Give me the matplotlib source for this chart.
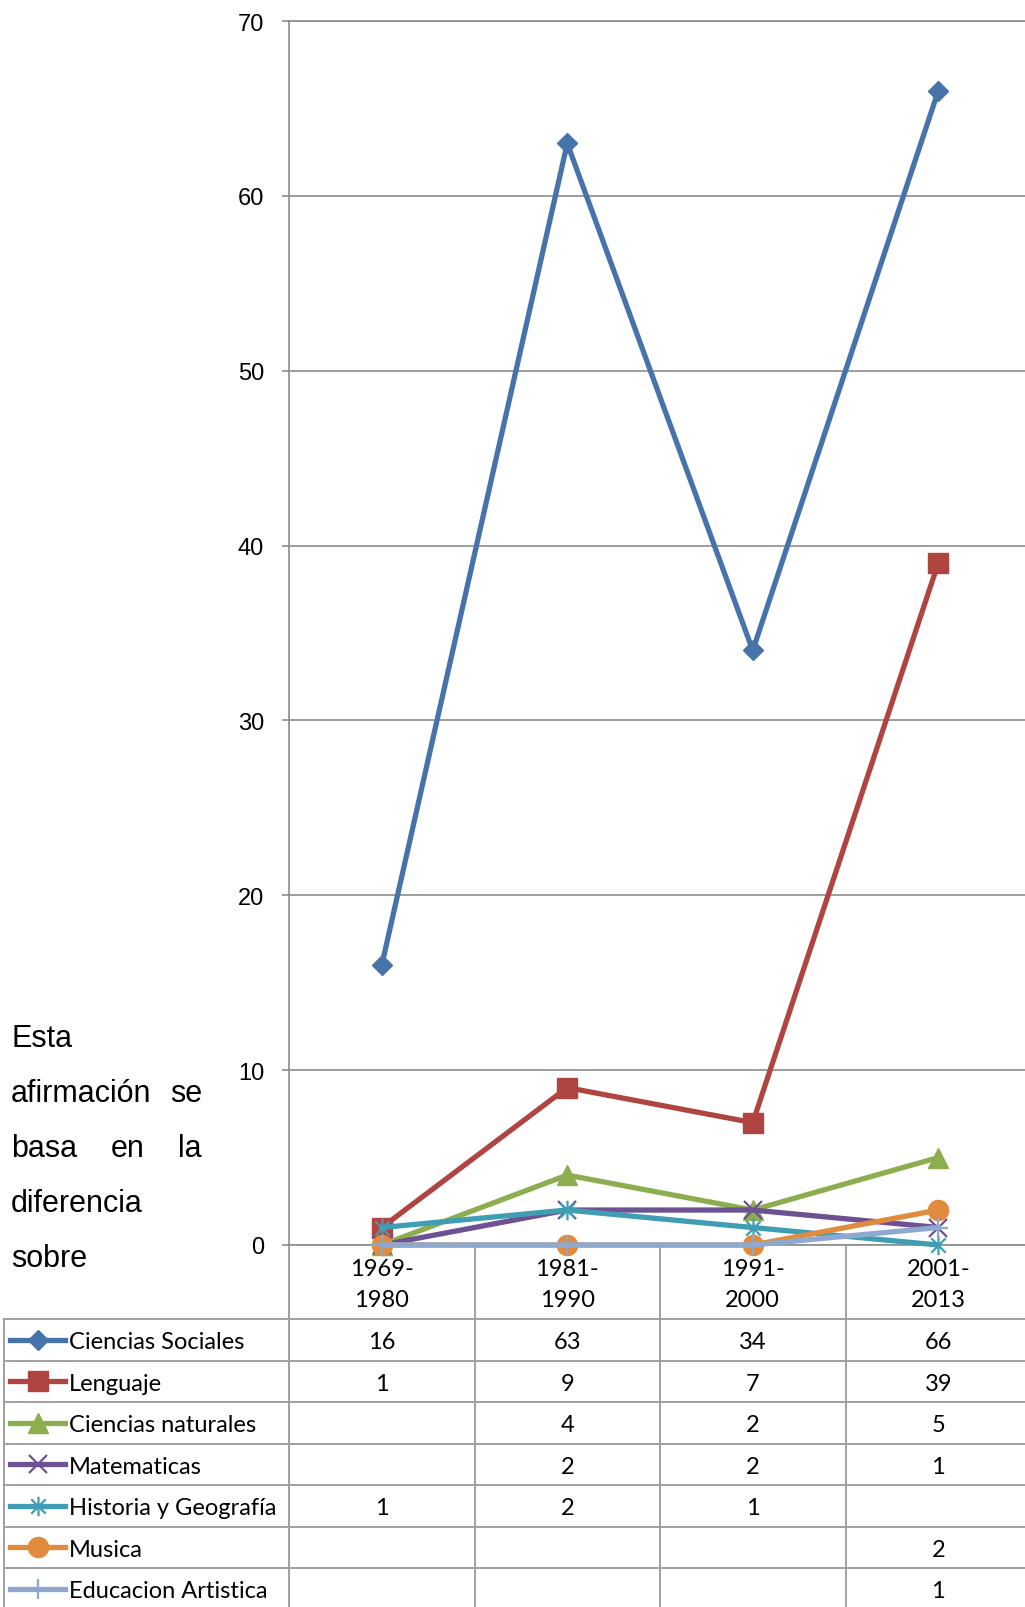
import matplotlib
matplotlib.use('Agg')
import matplotlib.pyplot as plt
from matplotlib.path import Path
from matplotlib.lines import Line2D
import matplotlib.transforms as mtransforms

# ---------------- data ----------------
categories = ['1969-\n1980', '1981-\n1990', '1991-\n2000', '2001-\n2013']
series_names = ['Ciencias Sociales', 'Lenguaje', 'Ciencias naturales', 'Matematicas',
                'Historia y Geografía', 'Musica', 'Educacion Artistica']
ciencias_sociales = [16, 63, 34, 66]
lenguaje = [1, 9, 7, 39]
ciencias_naturales = [None, 4, 2, 5]
matematicas = [None, 2, 2, 1]
historia_geografia = [1, 2, 1, None]
musica = [None, None, None, 2]
educacion_artistica = [None, None, None, 1]
y_ticks = [0, 10, 20, 30, 40, 50, 60, 70]
paragraph_lines = [['Esta'], ['afirmación', 'se'], ['basa', 'en', 'la'], ['diferencia'], ['sobre']]

series_values = [ciencias_sociales, lenguaje, ciencias_naturales, matematicas,
                 historia_geografia, musica, educacion_artistica]

# ---------------- styles ----------------
colors = ['#4674AA', '#AF4441', '#8DAE4E', '#6E5193', '#3F9DB4', '#E08B3D', '#8EA9D0']
asterisk = Path([(-1, -1), (1, 1), (-1, 1), (1, -1), (0, -1.35), (0, 1.35)],
                [Path.MOVETO, Path.LINETO, Path.MOVETO, Path.LINETO, Path.MOVETO, Path.LINETO])
markers = ['D', 's', '^', 'x', asterisk, 'o', '+']
msizes = [10.5, 14.5, 15, 13, 14, 14.5, 14]
mew = [1, 1, 1, 1.6, 1.6, 1, 1.6]

W, H = 1025, 1608
fig = plt.figure(figsize=(W / 100, H / 100), dpi=100)

ax_left, ax_right, ax_top, ax_bot = 289, 1031, 22, 1246
ax = fig.add_axes([ax_left / W, (H - ax_bot) / H, (ax_right - ax_left) / W, (ax_bot - ax_top) / H])
ax.set_zorder(2)
ax.patch.set_visible(False)

tab = fig.add_axes([0, 0, 1, 1])
tab.set_zorder(1)
tab.set_xlim(0, W)
tab.set_ylim(H, 0)
tab.axis('off')

grid_col = '#8C8C8C'
x = list(range(len(categories)))

for i, vals in enumerate(series_values):
    plotted = [v if v is not None else 0 for v in vals]
    ax.plot(x, plotted, color=colors[i], lw=3.8, marker=markers[i], ms=msizes[i],
            mfc=colors[i], mec=colors[i], mew=mew[i], clip_on=False, zorder=3 + i,
            solid_joinstyle='round')

ax.set_xlim(-0.5, 3.5)
ax.set_ylim(0, 70)
ax.set_yticks(y_ticks)
ax.set_yticklabels([str(t) for t in y_ticks], fontsize=17, family='Liberation Sans')
ax.tick_params(axis='y', direction='out', length=5, width=1.2, color=grid_col, pad=13)
ax.set_xticks([])
for s in ['right']:
    ax.spines[s].set_visible(False)
for s in ['left', 'top', 'bottom']:
    ax.spines[s].set_color(grid_col)
    ax.spines[s].set_linewidth(1.2)
ax.yaxis.grid(True, color=grid_col, lw=1.2)
ax.set_axisbelow(True)

# ---------------- data table ----------------
bt = mtransforms.blended_transform_factory(ax.transData, tab.transData)
table_font = 'Lato'
fs_tab = 17

# category header
for ci, lab in enumerate(categories):
    l1, l2 = lab.split('\n')
    tab.text(ci, 1276, l1, transform=bt, ha='center', va='baseline', fontsize=fs_tab, family=table_font)
    tab.text(ci, 1307, l2, transform=bt, ha='center', va='baseline', fontsize=fs_tab, family=table_font)

row_top = 1320
row_h = 41.5
n_rows = len(series_names)
tcol = '#A0A0A0'

# horizontal lines
for r in range(n_rows + 1):
    y = row_top + r * row_h
    tab.add_line(Line2D([4, W], [y, y], color=tcol, lw=1.4))
# left border
tab.add_line(Line2D([4, 4], [row_top, row_top + n_rows * row_h], color=tcol, lw=1.4))
# column dividers
for xb in [-0.5, 0.5, 1.5, 2.5]:
    tab.add_line(Line2D([xb, xb], [ax_bot, row_top + n_rows * row_h], color=tcol, lw=1.4, transform=bt))

for r, (name, vals) in enumerate(zip(series_names, series_values)):
    yc = row_top + r * row_h + row_h / 2
    tab.add_line(Line2D([10, 65], [yc, yc], color=colors[r], lw=3.8))
    tab.add_line(Line2D([38], [yc], color=colors[r], marker=markers[r], ms=msizes[r],
                        mfc=colors[r], mec=colors[r], mew=mew[r]))
    tab.text(69, yc + 8.5, name, ha='left', va='baseline', fontsize=fs_tab, family=table_font)
    for ci, v in enumerate(vals):
        if v is not None:
            tab.text(ci, yc + 8.5, str(v), transform=bt, ha='center', va='baseline',
                     fontsize=fs_tab, family=table_font)

# ---------------- side paragraph (justified) ----------------
para_font = 'Liberation Sans'
fs_para = 22
left_x, right_x = 11, 202
baselines = [1047, 1102, 1157, 1212, 1267]
fig.canvas.draw()
renderer = fig.canvas.get_renderer()
for words, yb in zip(paragraph_lines, baselines):
    texts = [tab.text(0, yb, w, ha='left', va='baseline', fontsize=fs_para, family=para_font)
             for w in words]
    if len(words) == 1:
        texts[0].set_x(left_x)
        continue
    inv = tab.transData.inverted()
    widths = []
    for t in texts:
        bb = t.get_window_extent(renderer)
        p0 = inv.transform((bb.x0, bb.y0))
        p1 = inv.transform((bb.x1, bb.y0))
        widths.append(p1[0] - p0[0])
    gap = (right_x - left_x - sum(widths)) / (len(words) - 1)
    xpos = left_x
    for t, wdt in zip(texts, widths):
        t.set_x(xpos)
        xpos += wdt + gap

fig.savefig('out.png', dpi=100, facecolor='white')
